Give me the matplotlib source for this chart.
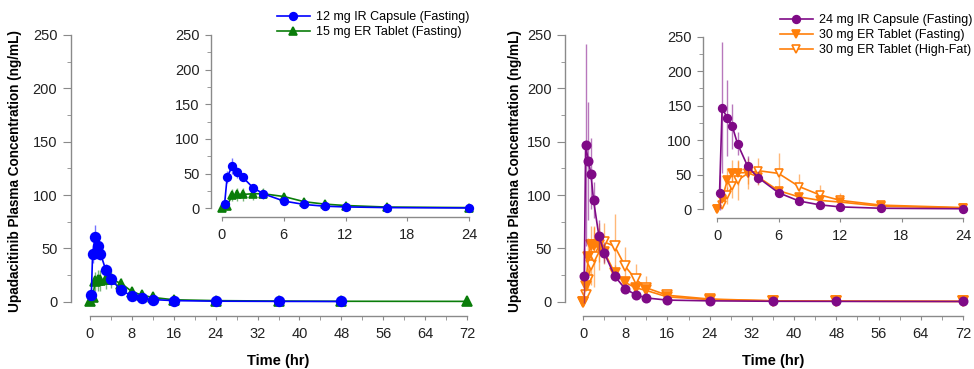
import numpy as np
import matplotlib
matplotlib.use('Agg')
import matplotlib.pyplot as plt
from matplotlib.ticker import MultipleLocator

plt.rcParams['font.family'] = ['Liberation Sans', 'DejaVu Sans']

# tiempos (hr)
t_ir12 = [0.25, 0.5, 1, 1.5, 2, 3, 4, 6, 8, 10, 12, 16, 24, 36, 48]
t_er = [0, 0.5, 1, 1.5, 2, 3, 4, 6, 8, 10, 12, 16, 24, 36, 48, 72]
t_ir24 = [0.25, 0.5, 1, 1.5, 2, 3, 4, 6, 8, 10, 12, 16, 24, 36, 48, 72]

# 12 mg IR Capsule (Fasting)
ir12_mean = [6, 45, 61, 52, 45, 30, 21, 10.5, 5.5, 3, 2, 1, 0.5, 0.3, 0.2]
ir12_sd = [3, 9, 11, 8, 6, 5, 4, 2.5, 1.5, 1, 0.6, 0.3, 0.2, 0.1, 0.1]
# 15 mg ER Tablet (Fasting)
er15_mean = [0.5, 4, 19, 20, 20, 21, 21, 17, 9.5, 6, 4, 1.8, 1, 0.6, 0.4, 0.3]
er15_sd = [0.5, 3, 9, 10, 10, 9, 8, 5, 3, 2, 1.5, 0.8, 0.4, 0.3, 0.2, 0.1]
# 24 mg IR Capsule (Fasting)
ir24_mean = [24, 147, 132, 120, 95, 62, 46, 24, 12, 6.5, 3.5, 1.5, 0.8, 0.4, 0.3, 0.2]
ir24_sd = [25, 95, 55, 33, 17, 15, 10, 5, 3, 2, 1, 0.6, 0.3, 0.2, 0.1, 0.1]
# 30 mg ER Tablet (Fasting)
er30_mean = [0, 15, 42, 53, 53, 53, 47, 27, 18, 13, 10.5, 4.5, 2, 0.8, 0.5, 0.3]
er30_sd = [0, 8, 18, 18, 18, 16, 12, 7, 5, 4, 3, 1.5, 0.8, 0.3, 0.2, 0.1]
# 30 mg ER Tablet (High-Fat)
er30hf_mean = [0, 6, 20, 34, 42, 52, 56, 52, 33, 21, 13, 6, 2.5, 0.8, 0.5, 0.3]
er30hf_sd = [0, 4, 12, 18, 28, 22, 18, 30, 18, 14, 11, 4, 1.5, 0.4, 0.3, 0.2]

labels_left = ['12 mg IR Capsule (Fasting)', '15 mg ER Tablet (Fasting)']
labels_right = ['24 mg IR Capsule (Fasting)', '30 mg ER Tablet (Fasting)',
                '30 mg ER Tablet (High-Fat)']

blue = '#0000ff'
green = '#0a7d0a'
purple = '#7f0a86'
orange = '#ff7f0a'
gris = '#8a8a8a'

W, H = 974, 369
fig = plt.figure(figsize=(W / 100, H / 100), dpi=100)


def px_axes(x0, x1, y0, y1):
    # x0,x1 = pixeles de x min/max, y0 = pixel de y=0, y1 = pixel de y=250
    return fig.add_axes([x0 / W, (H - y0) / H, (x1 - x0) / W, (y0 - y1) / H])


def estilo(ax, xmax, xmaj, xmin, off_y, off_x, ylen):
    ax.set_xlim(0, xmax)
    ax.set_ylim(0, 250)
    ax.patch.set_alpha(0)
    for s in ['top', 'right']:
        ax.spines[s].set_visible(False)
    ax.spines['left'].set_position(('outward', off_y))
    ax.spines['bottom'].set_position(('outward', off_x))
    ax.spines['left'].set_bounds(0, 250)
    ax.spines['bottom'].set_bounds(0, xmax)
    for s in ['left', 'bottom']:
        ax.spines[s].set_color(gris)
        ax.spines[s].set_linewidth(1.0)
    ax.xaxis.set_major_locator(MultipleLocator(xmaj))
    if xmin:
        ax.xaxis.set_minor_locator(MultipleLocator(xmin))
    ax.yaxis.set_major_locator(MultipleLocator(50))
    ax.yaxis.set_minor_locator(MultipleLocator(25))
    ax.tick_params(axis='y', which='major', length=ylen, pad=4, color=gris,
                   labelsize=10.5, labelcolor='#222222')
    ax.tick_params(axis='y', which='minor', length=3, color=gris)
    ax.tick_params(axis='x', which='both', length=3, pad=5, color=gris,
                   labelsize=10.5, labelcolor='#222222')


def serie(ax, t, m, sd, color, marker, ms, face=None, z=3):
    ax.errorbar(t, m, yerr=sd, fmt='none', ecolor=color, elinewidth=1.0,
                alpha=0.55, capsize=0, clip_on=False, zorder=z)
    ln, = ax.plot(t, m, color=color, marker=marker, ms=ms, lw=1.2,
                  mfc=face if face else color, mec=color, mew=1.2,
                  clip_on=False, zorder=z + 0.5)
    return ln


def recortar(t, m, sd, tmax=24):
    idx = [i for i, v in enumerate(t) if v <= tmax]
    return [t[i] for i in idx], [m[i] for i in idx], [sd[i] for i in idx]


# ---------------- panel izquierdo ----------------
axL = px_axes(90, 467, 301.7, 35)
estilo(axL, 72, 8, 4, 14, 10, 5.5)
serie(axL, t_er, er15_mean, er15_sd, green, '^', 7)
serie(axL, t_ir12, ir12_mean, ir12_sd, blue, 'o', 7, z=4)
axL.set_xlabel('Time (hr)', fontsize=10.5, fontweight='bold')
axL.set_ylabel('Upadacitinib Plasma Concentration (ng/mL)', fontsize=9.8,
               fontweight='bold')
axL.xaxis.set_label_coords(0.5, -0.195)
axL.yaxis.set_label_coords(-0.18, 0.49)

insL = px_axes(222, 469, 208.3, 35)
estilo(insL, 24, 6, None, 8, 6.5, 4)
l1 = serie(insL, *recortar(t_ir12, ir12_mean, ir12_sd), blue, 'o', 5.5, z=4)
l2 = serie(insL, *recortar(t_er, er15_mean, er15_sd), green, '^', 5.5)
fig.legend([l1, l2], labels_left, loc='upper left',
           bbox_to_anchor=(277 / W, (H - 11) / H), frameon=False, fontsize=9,
           borderpad=0, borderaxespad=0, handlelength=2.6, handletextpad=0.5,
           labelspacing=0.25)

# ---------------- panel derecho ----------------
axR = px_axes(583, 963, 301.7, 35)
estilo(axR, 72, 8, 4, 13, 10, 5.5)
serie(axR, t_er, er30hf_mean, er30hf_sd, orange, 'v', 6.5, face='white')
serie(axR, t_er, er30_mean, er30_sd, orange, 'v', 6.5, z=3.2)
serie(axR, t_ir24, ir24_mean, ir24_sd, purple, 'o', 6, z=4)
axR.set_xlabel('Time (hr)', fontsize=10.5, fontweight='bold')
axR.set_ylabel('Upadacitinib Plasma Concentration (ng/mL)', fontsize=9.8,
               fontweight='bold')
axR.xaxis.set_label_coords(0.5, -0.195)
axR.yaxis.set_label_coords(-0.16, 0.49)

insR = px_axes(717, 963, 209.3, 36.7)
estilo(insR, 24, 6, None, 10, 6.5, 4)
l5 = serie(insR, *recortar(t_er, er30hf_mean, er30hf_sd), orange, 'v', 5.5,
           face='white')
l4 = serie(insR, *recortar(t_er, er30_mean, er30_sd), orange, 'v', 5.5, z=3.2)
l3 = serie(insR, *recortar(t_ir24, ir24_mean, ir24_sd), purple, 'o', 5.5, z=4)
fig.legend([l3, l4, l5], labels_right, loc='upper left',
           bbox_to_anchor=(780 / W, (H - 14) / H), frameon=False, fontsize=9,
           borderpad=0, borderaxespad=0, handlelength=2.6, handletextpad=0.5,
           labelspacing=0.25)

fig.savefig('out.png', dpi=100)
